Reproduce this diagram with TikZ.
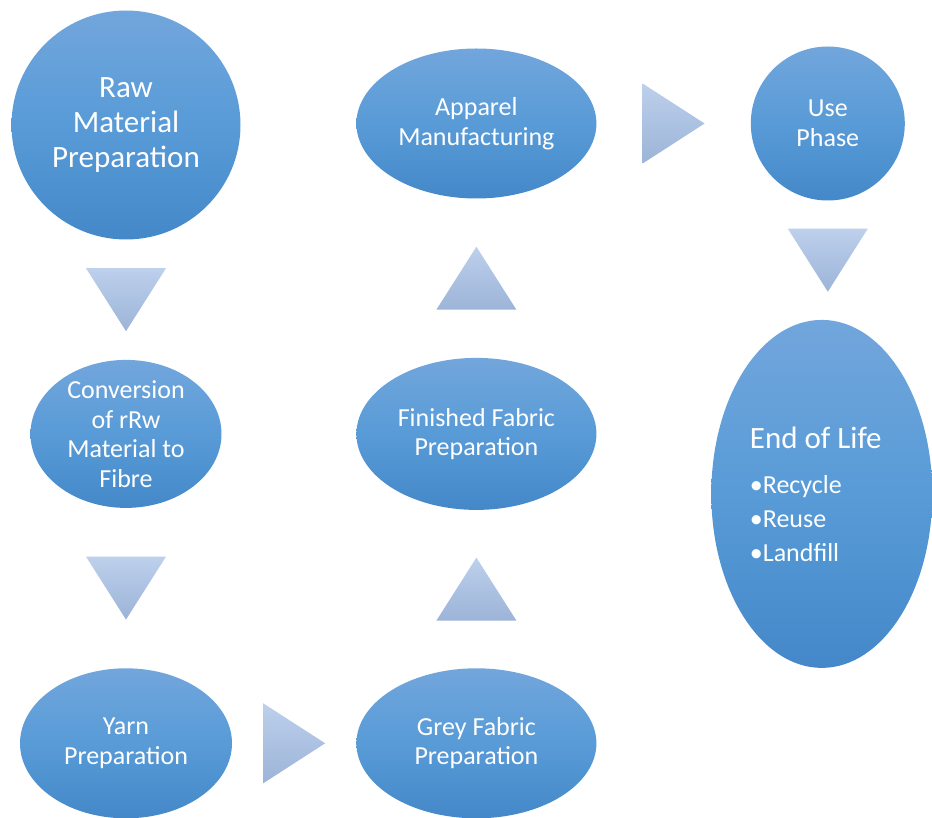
\documentclass[tikz,border=0pt]{standalone}
\usepackage{fontspec}
\setmainfont{Carlito}
\usepackage{tikz}
\usetikzlibrary{positioning, calc, shapes.geometric}
\definecolor{blobtop}{HTML}{72A6DC}
\definecolor{blobmid}{HTML}{589BD7}
\definecolor{blobbot}{HTML}{4488C9}
\definecolor{tritop}{HTML}{BDD0EC}
\definecolor{tribot}{HTML}{9CB4D8}

\begin{document}
\begin{tikzpicture}[
  x=1pt, y=-1pt,
  blob/.style={ellipse, inner sep=-12pt, top color=blobtop, bottom color=blobbot,
               middle color=blobmid, text=white, align=center,
               font=\fontsize{26}{29.5}\selectfont},
  tri/.style={top color=tritop, bottom color=tribot},
  tridown/.pic={\path[tri] (-40pt,31.5pt) -- (40pt,31.5pt) -- (0pt,-31.5pt) -- cycle;},
  triup/.pic={\path[tri] (-40pt,-31.5pt) -- (40pt,-31.5pt) -- (0pt,31.5pt) -- cycle;},
  triright/.pic={\path[tri] (-31pt,40pt) -- (31pt,0pt) -- (-31pt,-40pt) -- cycle;}
]
  \useasboundingbox (0,0) rectangle (932,818);

  \node[blob, minimum width=229pt, minimum height=229pt,
        font=\fontsize{31}{35}\selectfont] (raw) at (126,125) {Raw\\Material\\Preparation};
  \node[blob, minimum width=191pt, minimum height=148pt, below=120pt of raw] (conv)
    {Conversion\\of rRw\\Material to\\Fibre};
  \node[blob, minimum width=212pt, minimum height=150pt, below=160pt of conv] (yarn)
    {Yarn\\Preparation};
  \node[blob, minimum width=240pt, minimum height=150pt, right=124pt of yarn] (grey)
    {Grey Fabric\\Preparation};
  \node[blob, minimum width=240pt, minimum height=152pt, above=158pt of grey] (finished)
    {Finished Fabric\\Preparation};
  \node[blob, minimum width=240pt, minimum height=150pt, above=159pt of finished] (apparel)
    {Apparel\\Manufacturing};
  \node[blob, minimum width=154pt, minimum height=154pt, right=154pt of apparel] (use)
    {Use\\Phase};
  \node[blob, minimum width=221pt, minimum height=348pt, below=119pt of use, xshift=-6pt,
        align=left, font=\fontsize{26}{34}\selectfont] (end)
    {{\fontsize{31}{35}\selectfont End of Life}\rule{12pt}{0pt}\\[11pt]•Recycle\\•Reuse\\•Landfill};

  \pic at ($(raw.south)!0.5!(conv.north)$) {tridown};
  \pic at ($(conv.south)!0.5!(yarn.north)$) {tridown};
  \pic at ($(yarn.east)!0.5!(grey.west)$) {triright};
  \pic at ($(grey.north)!0.5!(finished.south)$) {triup};
  \pic at ($(finished.north)!0.5!(apparel.south)$) {triup};
  \pic at ($(apparel.east)!0.5!(use.west)$) {triright};
  \pic at ($(use.south)!0.5!(end.north -| use.south)$) {tridown};
\end{tikzpicture}
\end{document}
